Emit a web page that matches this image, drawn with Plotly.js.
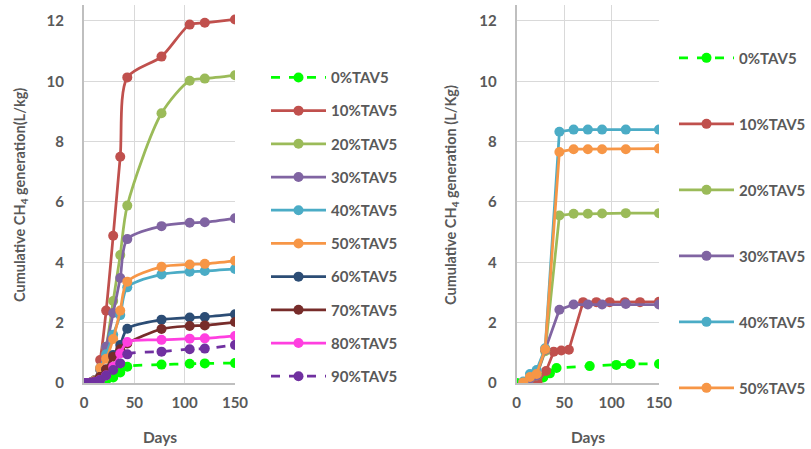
<!DOCTYPE html>
<html>
<head>
<meta charset="utf-8">
<script src="https://cdn.plot.ly/plotly-3.0.1.min.js"></script>
<style>html,body{margin:0;padding:0;background:#fff;}#chart{width:811px;height:449px;}</style>
</head>
<body>
<div id="chart"></div>
<script>
// ---------- Left chart data ----------
const leftDays = [0, 3, 7, 11, 16, 22, 29, 36, 43, 77, 105, 120, 150];
const left0  = [0, 0, 0, 0.01, 0.03, 0.08, 0.18, 0.35, 0.54, 0.61, 0.64, 0.65, 0.66];
const left10 = [0, 0, 0.02, 0.1, 0.76, 2.4, 4.88, 7.5, 10.13, 10.82, 11.88, 11.94, 12.05];
const left20 = [0, 0, 0.02, 0.1, 0.45, 1.2, 2.72, 4.24, 5.88, 8.94, 10.02, 10.09, 10.2];
const left30 = [0, 0, 0.02, 0.1, 0.45, 1.2, 2.32, 3.48, 4.77, 5.2, 5.31, 5.33, 5.46];
const left40 = [0, 0, 0.02, 0.08, 0.5, 0.95, 1.6, 2.25, 3.17, 3.6, 3.69, 3.71, 3.78];
const left50 = [0, 0, 0.02, 0.08, 0.5, 0.8, 1.46, 2.4, 3.36, 3.85, 3.93, 3.95, 4.05];
const left60 = [0, 0, 0.01, 0.05, 0.2, 0.45, 0.93, 1.26, 1.8, 2.1, 2.17, 2.19, 2.28];
const left70 = [0, 0, 0.01, 0.05, 0.2, 0.45, 0.87, 1.12, 1.31, 1.79, 1.89, 1.91, 2.02];
const left80 = [0, 0, 0.01, 0.03, 0.1, 0.25, 0.54, 0.98, 1.36, 1.43, 1.47, 1.48, 1.56];
const left90 = [0, 0, 0.01, 0.03, 0.1, 0.25, 0.43, 0.65, 0.95, 1.04, 1.12, 1.14, 1.26];

// ---------- Right chart data ----------
const right0Days = [0, 7, 14, 21, 28, 35, 42, 77, 105, 120, 150];
const right0  = [0, 0.01, 0.03, 0.08, 0.18, 0.32, 0.5, 0.56, 0.6, 0.63, 0.63];
const right10Days = [7, 14, 22, 31, 39, 47, 55, 70, 84, 98, 114, 130, 150];
const right10 = [0, 0, 0.02, 0.4, 1.04, 1.08, 1.1, 2.68, 2.68, 2.68, 2.68, 2.68, 2.69];
const rightDays = [7, 14, 21, 30, 45, 60, 75, 90, 115, 150];
const right20 = [0.02, 0.15, 0.25, 1.05, 5.55, 5.61, 5.61, 5.62, 5.63, 5.63];
const right30 = [0.02, 0.15, 0.25, 1.1, 2.43, 2.6, 2.6, 2.6, 2.62, 2.6];
const right40 = [0.05, 0.3, 0.43, 1.15, 8.33, 8.4, 8.4, 8.4, 8.4, 8.4];
const right50 = [0.02, 0.2, 0.3, 1.12, 7.66, 7.75, 7.75, 7.75, 7.75, 7.77];

const xTicks = [0, 50, 100, 150];
const yTicks = [0, 2, 4, 6, 8, 10, 12];
const leftNames = ['0%TAV5','10%TAV5','20%TAV5','30%TAV5','40%TAV5','50%TAV5','60%TAV5','70%TAV5','80%TAV5','90%TAV5'];
const rightNames = ['0%TAV5','10%TAV5','20%TAV5','30%TAV5','40%TAV5','50%TAV5'];

const colors = ['#00FF00','#C0504D','#9BBB59','#8064A2','#4BACC6','#F79646','#2C4D75','#772C2A','#FF3FE0','#7030A0'];
const dashes = ['dash','solid','solid','solid','solid','solid','solid','solid','solid','dash'];

const FONT = 'Lato, "Open Sans", sans-serif';
const GREY = '#595959';

const leftSeries = [left0,left10,left20,left30,left40,left50,left60,left70,left80,left90];
const traces = [];
leftSeries.forEach((ys, i) => {
  traces.push({
    x: leftDays, y: ys, name: leftNames[i], type: 'scatter', mode: 'lines+markers',
    xaxis: 'x', yaxis: 'y', legend: 'legend', legendgroup: 'L' + i,
    line: {color: colors[i], width: 2.75, dash: dashes[i], shape: 'spline', smoothing: 0.8},
    marker: {color: colors[i], size: 10}
  });
});
const rightSeries = [[right0Days,right0],[right10Days,right10],[rightDays,right20],[rightDays,right30],[rightDays,right40],[rightDays,right50]];
rightSeries.forEach((s, i) => {
  traces.push({
    x: s[0], y: s[1], name: rightNames[i], type: 'scatter', mode: 'lines+markers',
    xaxis: 'x2', yaxis: 'y2', legend: 'legend2', legendgroup: 'R' + i,
    line: {color: colors[i], width: 2.75, dash: dashes[i]},
    marker: {color: colors[i], size: 10}
  });
});

const axisFont = {family: FONT, size: 15, color: GREY, weight: 'bold'};
function xax(domain, anchor) {
  return {domain: domain, anchor: anchor, range: [0, 150], tickvals: xTicks, showgrid: true,
    gridcolor: '#D9D9D9', gridwidth: 1, zeroline: false, showline: true, linecolor: '#BFBFBF', linewidth: 2,
    ticks: '', tickfont: axisFont, ticklabelstandoff: 5, fixedrange: true, automargin: false};
}
function yax(anchor) {
  return {domain: [0, 1], anchor: anchor, range: [0, 12.53], tickvals: yTicks, showgrid: true,
    gridcolor: '#D9D9D9', gridwidth: 1, zeroline: false, showline: true, linecolor: '#BFBFBF', linewidth: 2,
    ticks: '', tickfont: axisFont, ticklabelstandoff: 15, fixedrange: true, automargin: false};
}
const legendFont = {family: FONT, size: 15, color: GREY, weight: 'bold'};

const layout = {
  width: 811, height: 449,
  margin: {l: 0, r: 0, t: 5, b: 66},
  paper_bgcolor: '#fff', plot_bgcolor: '#fff',
  xaxis: xax([84/811, 235/811], 'y'),
  yaxis: yax('x'),
  xaxis2: xax([516.7/811, 659/811], 'y2'),
  yaxis2: yax('x2'),
  legend: {x: 266/811, y: 1 - (66/444), xanchor: 'left', yanchor: 'top', font: legendFont,
    tracegroupgap: 10.7, itemwidth: 55, bgcolor: 'rgba(0,0,0,0)'},
  legend2: {x: 1, y: 1 - (43/444), xanchor: 'right', yanchor: 'top', font: legendFont,
    tracegroupgap: 43.5, itemwidth: 55, bgcolor: 'rgba(0,0,0,0)'},
  showlegend: true,
  annotations: [
    {text: 'Cumulative CH<sub>4</sub> generation(L/kg)', xref: 'paper', yref: 'paper',
     x: 20/811, y: 1 - (195 - 5)/378, textangle: -90, showarrow: false, xanchor: 'center', yanchor: 'middle',
     font: {family: FONT, size: 14.5, color: GREY, weight: 'bold'}},
    {text: 'Cumulative CH<sub>4</sub> generation (L/Kg)', xref: 'paper', yref: 'paper',
     x: 451/811, y: 1 - (195 - 5)/378, textangle: -90, showarrow: false, xanchor: 'center', yanchor: 'middle',
     font: {family: FONT, size: 14.5, color: GREY, weight: 'bold'}},
    {text: 'Days', xref: 'paper', yref: 'paper', x: 160/811, y: -(437 - 383)/378,
     showarrow: false, xanchor: 'center', yanchor: 'middle',
     font: {family: FONT, size: 15.5, color: GREY, weight: 'bold'}},
    {text: 'Days', xref: 'paper', yref: 'paper', x: 588/811, y: -(437 - 383)/378,
     showarrow: false, xanchor: 'center', yanchor: 'middle',
     font: {family: FONT, size: 15.5, color: GREY, weight: 'bold'}}
  ]
};

Plotly.newPlot('chart', traces, layout, {staticPlot: true, displayModeBar: false});
</script>
</body>
</html>
